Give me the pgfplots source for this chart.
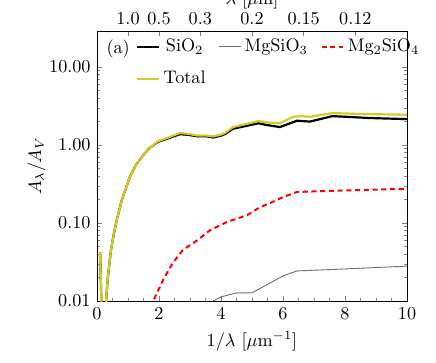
\documentclass[border=0pt]{standalone}
\usepackage{pgfplots}
\pgfplotsset{compat=1.18}
\definecolor{totc}{RGB}{210,205,35}
\definecolor{mgc}{RGB}{110,110,110}

\begin{document}
\begin{tikzpicture}
\begin{axis}[
  name=main,
  scale only axis, width=170.5pt, height=148.5pt,
  xmin=0, xmax=10, ymode=log, ymin=0.01, ymax=29,
  xtick={0,2,4,6,8,10}, minor x tick num=3, xtick pos=bottom,
  ytick={0.01,0.1,1,10}, yticklabels={0.01,0.10,1.00,10.00}, ytick pos=both,
  tick align=inside, major tick length=3pt, minor tick length=1.8pt,
  xlabel={$1/\lambda$ [$\mu$m$^{-1}$]},
  ylabel={$A_\lambda/A_V$}, ylabel style={yshift=-5pt},
  legend style={draw=none, fill=none, at={(0.125,0.985)}, anchor=north west,
    inner sep=0pt, row sep=5pt,
    /tikz/every even column/.append style={column sep=5pt}},
  legend columns=3,
  legend image code/.code={\draw[#1] (0cm,0cm) -- (0.42cm,0cm);},
]
% SiO2
\addplot[black, line width=1.2pt] coordinates {
 (0.1,0.042) (0.16,0.005) (0.26,0.005) (0.29,0.01) (0.35,0.02) (0.45,0.045)
 (0.55,0.075) (0.64,0.11) (0.8,0.197) (1.06,0.39) (1.25,0.55) (1.49,0.74)
 (1.7,0.92) (1.97,1.10) (2.3,1.22) (2.68,1.38) (3.0,1.34) (3.26,1.29)
 (3.5,1.30) (3.75,1.25) (4.0,1.32) (4.13,1.38) (4.39,1.62) (4.7,1.72)
 (5.2,1.90) (5.5,1.80) (5.9,1.70) (6.45,2.05) (6.87,2.0) (7.6,2.35)
 (8.8,2.22) (10,2.15)};
\addlegendentry{SiO$_2$}
% MgSiO3
\addplot[mgc, line width=0.5pt] coordinates {
 (3.75,0.01) (4.0,0.0113) (4.5,0.0127) (5.0,0.0127) (5.58,0.017)
 (6.0,0.021) (6.45,0.0243) (7.94,0.0257) (10,0.028)};
\addlegendentry{MgSiO$_3$}
% Mg2SiO4
\addplot[red, line width=1.1pt, dash pattern=on 2.8pt off 2pt] coordinates {
 (1.84,0.0105) (2.13,0.0186) (2.45,0.031) (2.77,0.045) (3.23,0.06)
 (3.65,0.081) (4.19,0.103) (4.84,0.126) (5.26,0.16) (5.58,0.18)
 (6.0,0.215) (6.45,0.25) (8,0.262) (10,0.275)};
\addlegendentry{Mg$_2$SiO$_4$}
% Total
\addplot[totc, line width=1.2pt] coordinates {
 (0.1,0.042) (0.16,0.005) (0.26,0.005) (0.29,0.01) (0.35,0.02) (0.45,0.045)
 (0.55,0.075) (0.64,0.11) (0.8,0.197) (1.06,0.39) (1.25,0.55) (1.49,0.74)
 (1.7,0.92) (1.97,1.12) (2.3,1.25) (2.68,1.43) (3.0,1.38) (3.26,1.32)
 (3.5,1.33) (3.75,1.29) (4.0,1.36) (4.13,1.43) (4.39,1.70) (4.7,1.82)
 (5.2,2.03) (5.5,1.95) (5.9,1.90) (6.32,2.3) (6.6,2.35) (6.87,2.3)
 (7.6,2.57) (8.5,2.5) (10,2.45)};
\addlegendentry{Total}
\node[anchor=west] at (rel axis cs:0.01,0.935) {(a)};
\end{axis}
\begin{axis}[
  scale only axis, width=170.5pt, height=148.5pt,
  xmin=0, xmax=10, ymin=0, ymax=1,
  axis x line*=top, axis y line=none,
  xtick={1,2,3.3333,5,6.6667,8.3333},
  xticklabels={1.0,0.5,0.3,0.2,0.15,0.12},
  tick align=inside, major tick length=3pt,
  xlabel={$\lambda$ [$\mu$m]}, xlabel style={yshift=-5pt},
]
\end{axis}
\pgfresetboundingbox
\path (main.south west) ++(-53.35pt,-34.1pt) coordinate (bl);
\path (main.north east) ++(15.95pt,17.05pt) coordinate (tr);
\path (bl) rectangle (tr);
\end{tikzpicture}
\end{document}
